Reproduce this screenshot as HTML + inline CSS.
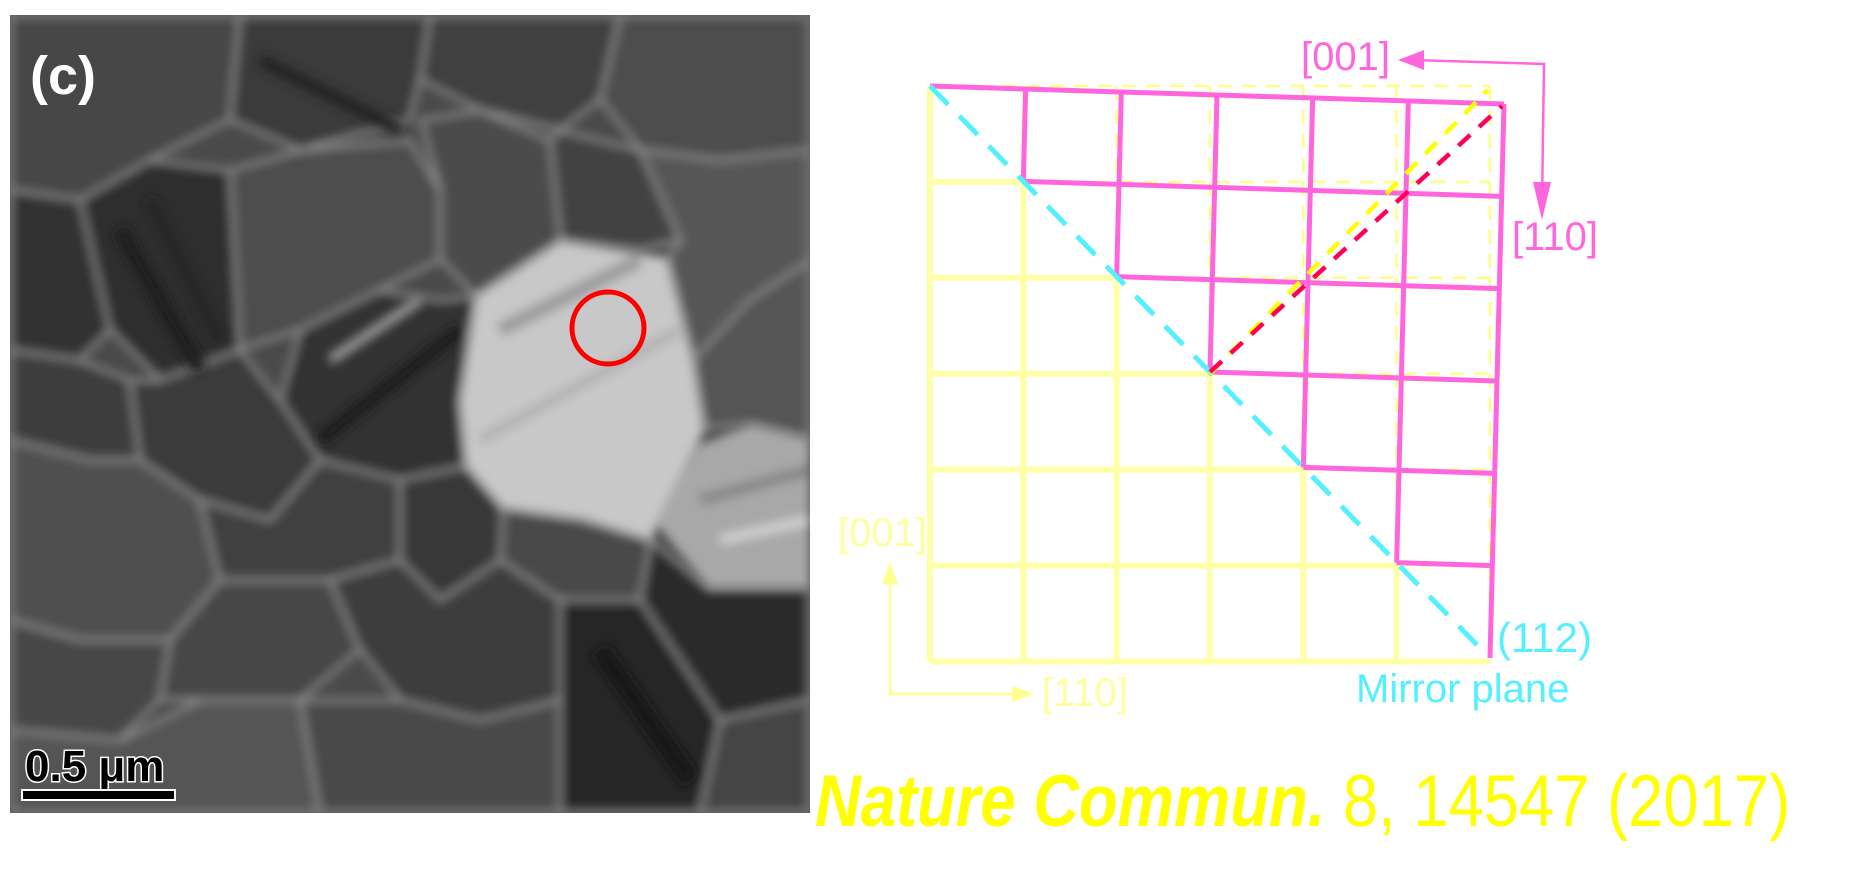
<!DOCTYPE html>
<html><head><meta charset="utf-8"><style>
html,body{margin:0;padding:0;background:#fff;width:1872px;height:872px;overflow:hidden}
svg{display:block}
text{font-family:"Liberation Sans",Arial,sans-serif}
</style></head><body>
<svg id="fig" width="1872" height="872" viewBox="0 0 1872 872">
<defs>
<filter id="blur3"><feGaussianBlur stdDeviation="5"/></filter>
<clipPath id="temclip"><rect x="10" y="15" width="800" height="798"/></clipPath>
</defs>
<g id="tem" clip-path="url(#temclip)">
<rect x="10" y="15" width="800" height="798" fill="#4a4a4a"/>
<g filter="url(#blur3)" stroke="#9a9a9a" stroke-width="3">
<polygon points="10,15 240,15 230,120 150,160 80,200 10,190" fill="#474747"/>
<polygon points="240,15 430,15 420,80 410,120 300,150 230,120" fill="#3a3a3a"/>
<polygon points="430,15 620,15 600,100 560,130 480,110 420,80" fill="#404040"/>
<polygon points="620,15 810,15 810,150 720,160 640,150 600,100" fill="#4d4d4d"/>
<polygon points="10,190 80,200 120,250 110,330 80,360 10,350" fill="#333"/>
<polygon points="80,200 150,160 230,170 240,350 160,380 110,330" fill="#2f2f2f"/>
<polygon points="230,170 300,150 410,140 440,190 440,260 380,290 300,330 240,350" fill="#4e4e4e"/>
<polygon points="420,120 480,110 550,140 560,210 560,241 476,296 440,260 440,190" fill="#4b4b4b"/>
<polygon points="560,130 640,150 700,200 680,240 640,250 561,241 550,140" fill="#434343"/>
<polygon points="640,150 720,160 810,150 810,260 750,300 693,360 667,259 680,240" fill="#565656"/>
<polygon points="693,360 750,300 810,260 810,439 752,424 704,429" fill="#555"/>
<polygon points="300,330 380,290 440,300 476,296 460,402 466,466 400,480 320,460 280,400" fill="#333"/>
<polygon points="10,350 80,360 130,380 140,460 90,460 10,440" fill="#3d3d3d"/>
<polygon points="130,380 160,380 240,350 280,400 320,460 270,520 200,500 140,460" fill="#3a3a3a"/>
<polygon points="10,440 90,460 140,460 200,500 220,580 170,640 80,640 10,620" fill="#505050"/>
<polygon points="200,500 270,520 320,460 400,480 440,520 400,560 330,580 220,580" fill="#404040"/>
<polygon points="400,480 466,466 503,508 500,560 440,600 400,560" fill="#383838"/>
<polygon points="503,508 582,519 651,540 640,600 560,600 500,560" fill="#494949"/>
<polygon points="651,540 709,588 810,588 810,700 720,720 640,600" fill="#2a2a2a"/>
<polygon points="10,620 80,640 170,640 160,700 120,740 10,730" fill="#474747"/>
<polygon points="170,640 220,580 330,580 360,650 300,700 200,700 160,700" fill="#464646"/>
<polygon points="330,580 400,560 440,600 500,560 560,600 560,700 480,720 400,700 360,650" fill="#3c3c3c"/>
<polygon points="560,600 640,600 720,720 700,813 560,813 560,700" fill="#262626"/>
<polygon points="10,730 120,740 200,700 300,700 320,813 10,813" fill="#555"/>
<polygon points="300,700 400,700 480,720 560,700 560,813 320,813" fill="#4a4a4a"/>
<polygon points="720,720 810,700 810,813 700,813" fill="#444"/>
</g>
<g filter="url(#blur3)">
<polygon points="476,296 561,241 667,259 693,360 704,429 656,524 651,540 582,519 503,508 466,466 460,402" fill="#c8c8c8" stroke="#aaa" stroke-width="3"/>
<polygon points="656,524 699,445 752,424 810,439 810,588 709,588" fill="#a8a8a8"/>
<line x1="500" y1="330" x2="640" y2="260" stroke="#9a9a9a" stroke-width="14"/>
<line x1="480" y1="440" x2="680" y2="330" stroke="#b0b0b0" stroke-width="10"/>
<line x1="700" y1="500" x2="810" y2="470" stroke="#888" stroke-width="12"/>
<line x1="720" y1="540" x2="810" y2="520" stroke="#d0d0d0" stroke-width="10"/>
<line x1="120" y1="230" x2="200" y2="370" stroke="#1e1e1e" stroke-width="14"/>
<line x1="150" y1="200" x2="220" y2="340" stroke="#222" stroke-width="10"/>
<line x1="320" y1="440" x2="460" y2="330" stroke="#1c1c1c" stroke-width="14"/>
<line x1="330" y1="360" x2="420" y2="300" stroke="#999" stroke-width="10"/>
<line x1="600" y1="650" x2="690" y2="780" stroke="#181818" stroke-width="18"/>
<line x1="260" y1="60" x2="400" y2="130" stroke="#222" stroke-width="12"/>
</g>
<circle cx="608" cy="328" r="36" fill="none" stroke="#ff0000" stroke-width="5"/>
<text x="30" y="94" font-size="54" font-weight="bold" fill="#fff">(c)</text>
<text x="25" y="781" font-size="44" font-weight="bold" fill="#000" stroke="#fff" stroke-width="3" paint-order="stroke">0.5 μm</text>
<rect x="22" y="790" width="153" height="10" fill="#000" stroke="#fff" stroke-width="2"/>
</g>
<g id="grid"></g>
<g>
<polyline points="1412,60 1544,64 1542,205" fill="none" stroke="#ff66dd" stroke-width="2.5"/>
<polygon points="1398,60 1424,50 1424,70" fill="#ff66dd"/>
<polygon points="1542,220 1533,182 1551,182" fill="#ff66dd"/>
</g>
<g>
<polyline points="890,578 890,694 1020,694" fill="none" stroke="#ffff90" stroke-width="2.5"/>
<polygon points="890,562 882,584 898,584" fill="#ffff90"/>
<polygon points="1034,694 1012,686 1012,702" fill="#ffff90"/>
</g>
<text x="1301" y="70" font-size="40" fill="#ff66dd">[001]</text>
<text x="1512" y="250" font-size="40" fill="#ff66dd">[110]</text>
<text x="838" y="546" font-size="40" fill="#ffffa0">[001]</text>
<text x="1042" y="706" font-size="40" fill="#ffffa0">[110]</text>
<text x="1497" y="652" font-size="42" fill="#55f0ff">(112)</text>
<text x="1356" y="702" font-size="40" fill="#55f0ff">Mirror plane</text>
<text x="815" y="826" font-size="64" fill="#ffff00" transform="translate(815 826) scale(0.99 1.14) translate(-815 -826)"><tspan font-weight="bold" font-style="italic">Nature Commun.</tspan> 8, 14547 (2017)</text>
</svg>
<script>
const N = 6;
const yellowOrigin = [930, 86];
const yellowStep = [93.3, 95.9];
const magentaCorners = [[930, 86], [1504, 104], [1490, 658]];
const ns = "http://www.w3.org/2000/svg";
const g = document.getElementById('grid');
function Y(i, j) { return [yellowOrigin[0] + i * yellowStep[0], yellowOrigin[1] + j * yellowStep[1]]; }
function M(i, j) {
  const a = magentaCorners[0], b = magentaCorners[1], c = magentaCorners[2];
  return [a[0] + (b[0] - a[0]) * i / N + (c[0] - b[0]) * j / N, a[1] + (b[1] - a[1]) * i / N + (c[1] - b[1]) * j / N];
}
function line(p, q, color, w, dash, name) {
  const l = document.createElementNS(ns, 'line');
  l.setAttribute('x1', p[0]); l.setAttribute('y1', p[1]);
  l.setAttribute('x2', q[0]); l.setAttribute('y2', q[1]);
  l.setAttribute('stroke', color); l.setAttribute('stroke-width', w);
  if (dash) l.setAttribute('stroke-dasharray', dash);
  
  
  g.appendChild(l);
}
for (let j = 0; j < N; j++) line(Y(j, j), Y(N, j), '#ffff88', 2.5, '14 10', 'yellow-dashed-row');
for (let i = 1; i <= N; i++) line(Y(i, 0), Y(i, i), '#ffff88', 2.5, '14 10', 'yellow-dashed-col');
for (let j = 1; j <= N; j++) line(Y(0, j), Y(j, j), '#ffffa8', 6, null, 'yellow-row');
for (let i = 0; i <= N; i++) line(Y(i, i), Y(i, N), '#ffffa8', 6, null, 'yellow-col');
for (let j = 0; j < N; j++) line(M(j, j), M(N, j), '#ff66dd', 5, null, 'magenta-row');
for (let i = 1; i <= N; i++) line(M(i, 0), M(i, i), '#ff66dd', 5, null, 'magenta-col');
line([930, 86], [1484, 652], '#55f0ff', 5, '26 16', 'mirror-plane-line');
line(Y(3, 3), [1488, 90], '#ffff00', 4.5, '16 12', 'yellow-diagonal');
line(M(3, 3), [1502, 106], '#ff0055', 4.5, '16 12', 'red-diagonal');
</script>
</body></html>
